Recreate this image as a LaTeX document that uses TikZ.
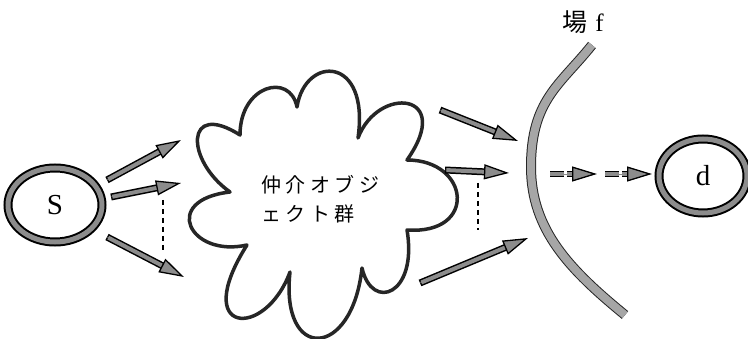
\documentclass[tikz,border=0pt]{standalone}
\usepackage{fontspec}
\setmainfont{Liberation Serif}
\newfontfamily\cjk{Noto Sans CJK JP}
\usetikzlibrary{arrows.meta,shapes.geometric,calc}
\definecolor{stip}{gray}{0.55}
\tikzset{
  ring/.style={ellipse, draw=black, line width=9pt, inner sep=0pt,
    postaction={draw=stip, line width=5pt}},
  fat/.style={draw=none,
    preaction={draw=black, line width=7pt, shorten >=22pt},
    preaction={draw=stip, line width=4pt, shorten >=21pt, shorten <=1.4pt},
    postaction={draw=stip, line width=0.4pt, -{Triangle[length=25pt,width=15pt,fill=stip,color=black,line width=1.3pt]}}},
  dfat/.style={draw=none,
    preaction={draw=black, line width=6pt, shorten >=22pt, dash pattern=on 14pt off 3pt},
    preaction={draw=stip, line width=3.6pt, shorten >=21pt, dash pattern=on 14pt off 3pt},
    postaction={draw=stip, line width=0.4pt, -{Triangle[length=25pt,width=15pt,fill=stip,color=black,line width=1.3pt]}}},
  dots/.style={draw=black, line width=2pt, dash pattern=on 5pt off 4pt},
  lbl/.style={font=\fontsize{29}{30}\selectfont},
}
\begin{document}
\begin{tikzpicture}[x=1pt,y=-1pt]
\useasboundingbox (0,0) rectangle (748,339);
% nodes
\node[ring, minimum width=94pt, minimum height=74pt, lbl] (s) at (55,205) {S};
\node[ring, minimum width=88pt, minimum height=74pt, lbl] (d) at (703,176) {d};
% cloud
\draw[line width=3.5pt, draw=black!85, fill=white, line join=round]
  (230,192) .. controls (185,160) and (185,100) .. (240,135)
  .. controls (240,85) and (290,72) .. (297,107)
  .. controls (305,55) and (370,55) .. (358,138)
  .. controls (378,85) and (455,92) .. (407,160)
  .. controls (470,160) and (478,235) .. (407,230)
  .. controls (418,295) and (372,312) .. (362,268)
  .. controls (352,360) and (280,362) .. (290,272)
  .. controls (265,340) and (190,335) .. (247,245)
  .. controls (190,258) and (160,200) .. (230,192) -- cycle;
\node[anchor=west, align=left, font=\cjk\fontsize{20}{29}\selectfont, inner sep=0pt] (txt) at (261,199)
  {仲\hspace{4.5pt}介\hspace{4.5pt}オ\hspace{4.5pt}ブ\hspace{4.5pt}ジ\\ェ\hspace{4.5pt}ク\hspace{4.5pt}ト\hspace{4.5pt}群};
% field
\coordinate (f1) at (592,45);
\coordinate (f2) at (625,315);
\draw[line width=10pt, black!85] (f1) .. controls (560,85) and (531,100) .. (531,167) .. controls (531,230) and (570,270) .. (f2);
\draw[line width=8pt, gray!70] (f1) .. controls (560,85) and (531,100) .. (531,167) .. controls (531,230) and (570,270) .. (f2);
\node[font=\fontsize{25}{26}\selectfont] (flbl) at (583,22) {{\cjk 場}\hspace{8pt}f};
% coordinates for arrows
\coordinate (a1s) at (107,180); \coordinate (a1e) at (181,140);
\coordinate (a2s) at (111,197); \coordinate (a2e) at (181,183);
\coordinate (a3s) at (107,237); \coordinate (a3e) at (184,277);
\coordinate (b1s) at (440,110); \coordinate (b1e) at (518,141);
\coordinate (b2s) at (445,170); \coordinate (b2e) at (509,173);
\coordinate (b3s) at (420,283); \coordinate (b3e) at (528,238);
\coordinate (c1s) at (550,174); \coordinate (c1e) at (597,174);
\coordinate (c2s) at (605,174); \coordinate (c2e) at (652,174);
\coordinate (v1a) at (163,200); \coordinate (v1b) at (163,250);
\coordinate (v2a) at (478,183); \coordinate (v2b) at (478,230);
\draw[fat] (a1s) -- (a1e);
\draw[fat] (a2s) -- (a2e);
\draw[fat] (a3s) -- (a3e);
\draw[fat] (b1s) -- (b1e);
\draw[fat] (b2s) -- (b2e);
\draw[fat] (b3s) -- (b3e);
\draw[dfat] (c1s) -- (c1e);
\draw[dfat] (c2s) -- (c2e);
\draw[dots] (v1a) -- (v1b);
\draw[dots] (v2a) -- (v2b);
\end{tikzpicture}
\end{document}
